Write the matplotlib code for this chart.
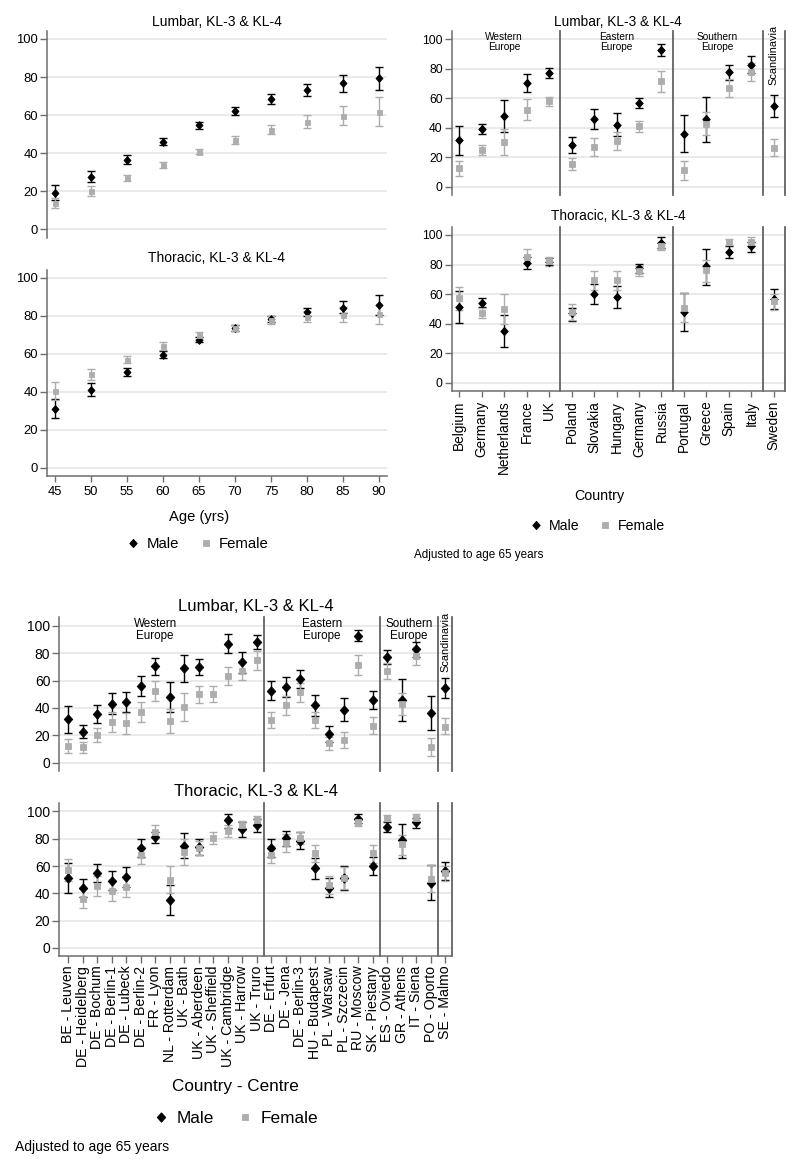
import numpy as np
import matplotlib.pyplot as plt
from matplotlib.lines import Line2D

plt.rcParams['font.family'] = ['Liberation Sans', 'DejaVu Sans']

W, H = 800, 1168
FEM = '#adadad'
SPINE = '#6e6e6e'
SEP = '#555555'
GRID = '#e4e4e4'
NA = (np.nan, np.nan, np.nan)
DIAMOND = [(0, 1), (0.9, 0), (0, -1), (-0.9, 0), (0, 1)]

# prevalence (%) as (estimate, lower CI, upper CI)
ages = [45, 50, 55, 60, 65, 70, 75, 80, 85, 90]
lum_age_male = [(19.1, 15.5, 23.0), (27.5, 25.0, 30.5), (36.5, 34.0, 39.0), (46.0, 44.0, 48.0),
                (54.6, 52.5, 56.5), (62.1, 60.0, 64.0), (68.4, 66.0, 71.0), (73.3, 69.8, 76.4),
                (76.8, 72.3, 81.0), (79.3, 73.0, 85.1)]
lum_age_female = [(13.8, 11.0, 16.5), (19.8, 17.5, 22.5), (26.7, 25.3, 28.2), (33.8, 32.3, 35.5),
                  (40.6, 39.3, 42.0), (46.9, 45.0, 49.0), (52.2, 50.0, 54.5), (56.5, 53.0, 60.0),
                  (59.5, 54.5, 65.0), (61.6, 54.0, 69.5)]
tho_age_male = [(31.1, 26.2, 36.0), (41.1, 37.8, 44.5), (50.6, 48.5, 52.7), (59.6, 58.0, 61.3),
                (67.3, 66.0, 68.8), (73.6, 72.3, 75.0), (78.3, 76.6, 80.0), (82.0, 80.0, 84.3),
                (84.4, 81.6, 87.7), (85.6, 80.5, 90.9)]
tho_age_female = [(40.4, 35.7, 45.3), (49.2, 46.2, 52.2), (56.9, 55.0, 59.0), (64.0, 62.0, 66.0),
                  (69.8, 68.0, 71.5), (73.6, 72.0, 75.3), (77.7, 75.5, 79.7), (79.6, 76.6, 82.5),
                  (80.5, 76.6, 84.5), (80.8, 75.5, 86.0)]

regions = ['Western\nEurope', 'Eastern\nEurope', 'Southern\nEurope', 'Scandinavia']

countries = ['Belgium', 'Germany', 'Netherlands', 'France', 'UK', 'Poland', 'Slovakia', 'Hungary',
             'Germany', 'Russia', 'Portugal', 'Greece', 'Spain', 'Italy', 'Sweden']
country_counts = [5, 5, 4, 1]
lum_cty_male = [(31.7, 21.5, 41.5), (38.9, 35.5, 42.5), (48.0, 37.0, 59.0), (70.5, 64.4, 76.3),
                (76.9, 73.5, 80.3), (28.3, 23.0, 33.9), (45.9, 39.0, 52.7), (42.0, 34.4, 49.8),
                (56.6, 53.2, 60.0), (92.9, 89.0, 97.0), (36.1, 23.9, 48.8), (45.9, 30.7, 61.2),
                (77.6, 72.2, 82.4), (82.9, 77.0, 88.5), (54.9, 47.6, 62.2)]
lum_cty_female = [(12.4, 7.3, 17.3), (24.9, 21.5, 28.3), (30.5, 21.5, 39.5), (52.4, 45.4, 59.8),
                  (58.1, 54.8, 61.0), (15.4, 11.3, 19.2), (27.1, 20.7, 33.2), (31.2, 25.1, 37.3),
                  (41.2, 37.3, 44.8), (71.5, 64.1, 78.5), (11.7, 4.9, 17.8), (42.9, 34.9, 50.7),
                  (67.1, 61.2, 73.2), (78.0, 71.5, 84.1), (26.3, 20.7, 32.4)]
tho_cty_male = [(51.0, 40.4, 62.0), (54.2, 51.0, 57.1), (35.0, 24.0, 45.8), (81.1, 76.7, 85.3),
                (82.0, 79.7, 84.2), (47.0, 42.0, 50.3), (60.0, 53.2, 66.9), (58.3, 50.7, 65.7),
                (77.4, 74.0, 80.4), (94.4, 91.4, 98.3), (47.8, 35.0, 60.8), (79.2, 66.0, 90.7),
                (88.5, 84.6, 92.4), (92.4, 88.2, 95.0), (56.6, 49.8, 63.2)]
tho_cty_female = [(57.1, 49.3, 65.0), (47.0, 43.6, 50.3), (49.8, 40.0, 60.0), (85.3, 81.1, 90.2),
                  (82.4, 79.0, 85.3), (48.0, 42.4, 53.3), (69.4, 62.5, 75.5), (69.4, 62.7, 75.5),
                  (75.8, 72.2, 79.0), (92.2, 89.5, 95.3), (50.5, 40.8, 60.8), (76.0, 68.1, 83.0),
                  (95.1, 93.0, 97.5), (95.5, 92.5, 98.5), (55.1, 49.3, 60.0)]

centres = ['BE - Leuven', 'DE - Heidelberg', 'DE - Bochum', 'DE - Berlin-1', 'DE - Lubeck',
           'DE - Berlin-2', 'FR - Lyon', 'NL - Rotterdam', 'UK - Bath', 'UK - Aberdeen',
           'UK - Sheffield', 'UK - Cambridge', 'UK - Harrow', 'UK - Truro', 'DE - Erfurt',
           'DE - Jena', 'DE - Berlin-3', 'HU - Budapest', 'PL - Warsaw', 'PL - Szczecin',
           'RU - Moscow', 'SK - Piestany', 'ES - Oviedo', 'GR - Athens', 'IT - Siena',
           'PO - Oporto', 'SE - Malmo']
centre_counts = [14, 8, 4, 1]
lum_ctr_male = [(31.7, 21.5, 41.5), (22.4, 17.8, 27.6), (35.4, 28.8, 42.0), (43.2, 35.6, 51.0),
                (44.6, 36.8, 52.0), (56.1, 48.8, 63.4), (70.5, 64.4, 76.3), (48.0, 37.0, 59.0),
                (69.0, 59.3, 78.8), (70.2, 64.4, 75.9), NA, (86.6, 80.0, 93.9),
                (73.4, 65.9, 81.2), (88.3, 83.0, 93.7), (52.7, 45.9, 59.8), (55.1, 47.8, 62.4),
                (61.2, 54.4, 67.8), (42.0, 34.4, 49.8), (20.7, 14.9, 26.6), (38.5, 30.2, 47.0),
                (92.9, 89.0, 97.0), (45.9, 39.0, 52.7), (77.6, 72.2, 82.4), (45.9, 30.7, 61.2),
                (82.9, 77.0, 88.5), (36.1, 23.9, 48.8), (54.9, 47.6, 62.2)]
lum_ctr_female = [(12.4, 7.3, 17.3), (11.5, 7.3, 15.4), (20.2, 15.1, 25.6), (30.0, 22.7, 37.3),
                  (28.8, 21.0, 36.1), (37.3, 29.8, 44.6), (52.4, 45.4, 59.8), (30.5, 21.5, 39.5),
                  (40.5, 30.5, 50.7), (50.0, 43.9, 56.1), (50.0, 44.1, 55.9), (63.4, 57.0, 69.8),
                  (67.1, 60.5, 73.9), (74.9, 67.8, 81.7), (31.2, 25.1, 37.3), (42.0, 35.1, 48.5),
                  (51.7, 44.6, 58.5), (31.2, 25.1, 37.3), (14.1, 9.3, 19.0), (16.6, 11.0, 22.7),
                  (71.5, 64.1, 78.5), (27.1, 20.7, 33.2), (67.1, 61.2, 73.2), (42.9, 34.9, 50.7),
                  (78.0, 71.5, 84.1), (11.7, 4.9, 17.8), (26.3, 20.7, 32.4)]
tho_ctr_male = [(51.2, 40.4, 62.0), (43.9, 37.0, 50.2), (55.1, 48.5, 61.5), (49.3, 42.4, 56.4),
                (52.0, 44.9, 59.1), (73.5, 66.9, 79.9), (81.1, 76.7, 85.3), (35.0, 24.0, 45.8),
                (75.0, 65.6, 84.1), (73.8, 68.1, 79.9), NA, (93.4, 88.0, 98.3),
                (87.5, 81.6, 92.6), (90.2, 84.6, 94.4), (73.3, 66.9, 79.7), (80.9, 75.0, 86.0),
                (78.7, 72.3, 85.3), (58.3, 50.7, 65.7), (43.6, 37.0, 51.2), (51.0, 42.4, 60.0),
                (94.4, 91.4, 98.3), (60.0, 53.2, 66.9), (88.5, 84.6, 92.4), (79.2, 66.0, 90.7),
                (92.4, 88.2, 95.0), (47.8, 35.0, 60.8), (56.6, 49.8, 63.2)]
tho_ctr_female = [(57.1, 49.3, 65.0), (36.0, 29.0, 42.9), (45.3, 38.0, 53.0), (41.9, 34.3, 49.8),
                  (44.9, 37.5, 52.7), (68.1, 61.5, 74.3), (85.3, 81.1, 90.2), (49.8, 40.0, 60.0),
                  (70.1, 60.8, 79.5), (73.0, 68.1, 78.0), (80.4, 76.2, 84.8), (85.8, 81.6, 90.2),
                  (90.2, 87.3, 93.1), (93.9, 90.4, 96.8), (68.1, 62.0, 74.8), (77.2, 70.6, 83.3),
                  (80.9, 76.0, 85.3), (69.4, 62.7, 75.5), (46.1, 39.5, 52.7), (51.0, 42.9, 59.1),
                  (92.2, 89.5, 95.3), (69.4, 62.5, 75.5), (95.1, 93.0, 97.5), (76.0, 68.1, 83.0),
                  (95.5, 92.5, 98.5), (50.5, 40.8, 60.8), (55.1, 49.3, 60.0)]

fig = plt.figure(figsize=(W / 100, H / 100), dpi=100)


def px_axes(l, t, r, b):
    return fig.add_axes([l / W, 1 - b / H, (r - l) / W, (b - t) / H])


def ftext(x, y, s, **kw):
    fig.text(x / W, 1 - y / H, s, **kw)


def draw(ax, x, male, female, ms=5.0, sq=3.6):
    for vals, fmt, col, m in ((male, DIAMOND, 'black', ms), (female, 's', FEM, sq)):
        v = np.array(vals, dtype=float)
        ax.errorbar(x, v[:, 0], yerr=[v[:, 0] - v[:, 1], v[:, 2] - v[:, 0]], fmt='none',
                    ecolor=col, capsize=3.2, elinewidth=1.0, capthick=1.0, zorder=3)
        ax.plot(x, v[:, 0], ls='none', marker=fmt, color=col, ms=m, mew=0.6, zorder=4)


def style(ax, xlim, ylim, bottom, fs):
    ax.set_xlim(*xlim)
    ax.set_ylim(*ylim)
    ax.set_yticks(range(0, 101, 20))
    ax.yaxis.grid(True, color=GRID, lw=1.1)
    ax.set_axisbelow(True)
    for s in ('top', 'right'):
        ax.spines[s].set_visible(False)
    for s in ('left', 'bottom'):
        ax.spines[s].set_color(SPINE)
        ax.spines[s].set_linewidth(1.1)
    ax.tick_params(axis='y', length=5, width=1, color=SPINE, pad=1.5, labelsize=fs)
    ax.tick_params(axis='x', length=4, width=1, color=SPINE, pad=3, labelsize=fs)
    if not bottom:
        ax.spines['bottom'].set_visible(False)
        ax.set_xticks([])


def separators(ax, counts, names, label_x, fs, scand_y):
    edges = np.cumsum(counts) + 0.5
    for e in edges:
        ax.axvline(e, color=SEP, lw=1.2, clip_on=False, zorder=2)
    if names is None:
        return
    tr = ax.get_xaxis_transform()
    for nm, lx in zip(names, label_x):
        if '\n' in nm:
            ax.text(lx, 0.995, nm, transform=tr, ha='center', va='top', fontsize=fs, linespacing=1.0)
        else:
            ax.text(lx, scand_y, nm, transform=tr, ha='center', va='top', fontsize=7.9,
                    rotation=90)


# ---- top-left: by age
ax1 = px_axes(47, 31, 387, 238)
draw(ax1, ages, lum_age_male, lum_age_female, 5.6, 3.6)
style(ax1, (43.9, 91.1), (-4.7, 104.2), False, 9.4)
ax2 = px_axes(47, 270, 387, 476)
draw(ax2, ages, tho_age_male, tho_age_female, 5.6, 3.6)
style(ax2, (43.9, 91.1), (-4.4, 104.2), True, 9.4)
ax2.set_xticks(ages)
ftext(217, 22, 'Lumbar, KL-3 & KL-4', ha='center', va='center', fontsize=10)
ftext(217, 258, 'Thoracic, KL-3 & KL-4', ha='center', va='center', fontsize=10)
ftext(199, 517, 'Age (yrs)', ha='center', va='center', fontsize=10.6)

# ---- top-right: by country
xc = np.arange(1, len(countries) + 1)
ax3 = px_axes(451.7, 30.7, 785, 195)
draw(ax3, xc, lum_cty_male, lum_cty_female, 6.0, 3.9)
style(ax3, (0.66, 15.5), (-5.6, 105.9), False, 8.8)
separators(ax3, country_counts, regions, [3, 8, 12.5, 15], 7.3, 1.035)
ax4 = px_axes(451.7, 226.7, 785, 391)
draw(ax4, xc, tho_cty_male, tho_cty_female, 6.0, 3.9)
style(ax4, (0.66, 15.5), (-5.6, 105.6), True, 8.8)
separators(ax4, country_counts, None, None, 7.3, 1.0)
ax4.set_xticks(xc, countries, rotation=90, fontsize=9.8)
ftext(618, 21.7, 'Lumbar, KL-3 & KL-4', ha='center', va='center', fontsize=9.8)
ftext(618, 216, 'Thoracic, KL-3 & KL-4', ha='center', va='center', fontsize=9.8)
ftext(599, 496, 'Country', ha='center', va='center', fontsize=10.3)
ftext(414, 555, 'Adjusted to age 65 years', ha='left', va='center', fontsize=8.4)

# ---- bottom: by centre
xs = np.arange(1, len(centres) + 1)
ax5 = px_axes(59.3, 617.3, 452.3, 770.7)
draw(ax5, xs, lum_ctr_male, lum_ctr_female, 6.8, 4.1)
style(ax5, (0.38, 27.5), (-5.9, 106.3), False, 10)
separators(ax5, centre_counts, regions, [7, 18.5, 24.5, 27], 8.4, 1.036)
ax6 = px_axes(59.3, 803.3, 452.3, 956)
draw(ax6, xs, tho_ctr_male, tho_ctr_female, 6.8, 4.1)
style(ax6, (0.38, 27.5), (-6, 106), True, 10)
separators(ax6, centre_counts, None, None, 8.4, 1.0)
ax6.set_xticks(xs, centres, rotation=90, fontsize=10.2)
ax6.tick_params(axis='x', length=5, pad=2)
ftext(256, 606.7, 'Lumbar, KL-3 & KL-4', ha='center', va='center', fontsize=12)
ftext(256, 792, 'Thoracic, KL-3 & KL-4', ha='center', va='center', fontsize=12)
ftext(235, 1087, 'Country - Centre', ha='center', va='center', fontsize=12.3)
ftext(15, 1147, 'Adjusted to age 65 years', ha='left', va='center', fontsize=10)

# ---- legends
for cx, cy, fs, ms, sq in ((198, 544, 10.7, 6.0, 3.9), (598, 526, 10.2, 6.0, 3.9),
                           (236, 1118, 12.4, 6.8, 4.3)):
    handles = [Line2D([], [], ls='none', marker=DIAMOND, color='black', ms=ms, mew=0.6),
               Line2D([], [], ls='none', marker='s', color=FEM, ms=sq, mew=0.6)]
    fig.legend(handles, ['Male', 'Female'], loc='center', bbox_to_anchor=(cx / W, 1 - cy / H),
               ncol=2, frameon=False, fontsize=fs, handlelength=0.8, handletextpad=0.5,
               columnspacing=1.4, borderpad=0)

fig.savefig('out.png', dpi=100)
